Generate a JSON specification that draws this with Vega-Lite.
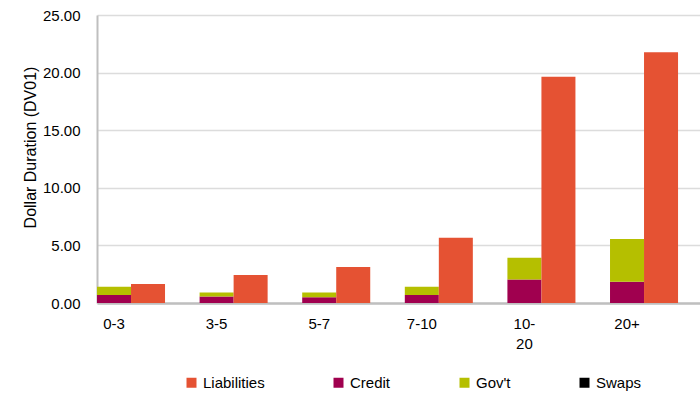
{
  "$schema": "https://vega.github.io/schema/vega-lite/v6.json",
  "width": 603,
  "height": 288,
  "autosize": {"type": "none"},
  "padding": {"left": 97, "top": 15, "right": 0, "bottom": 90},
  "background": "white",
  "config": {
    "view": {"stroke": null},
    "font": "Liberation Sans, Arial, sans-serif"
  },
  "data": {
    "values": [
      {"bucket": "0-3", "side": "Assets", "series": "Credit", "dv01": 0.69},
      {"bucket": "0-3", "side": "Assets", "series": "Gov't", "dv01": 0.72},
      {"bucket": "0-3", "side": "Assets", "series": "Swaps", "dv01": 0},
      {"bucket": "0-3", "side": "Liab", "series": "Liabilities", "dv01": 1.65},
      {"bucket": "3-5", "side": "Assets", "series": "Credit", "dv01": 0.57},
      {"bucket": "3-5", "side": "Assets", "series": "Gov't", "dv01": 0.35},
      {"bucket": "3-5", "side": "Assets", "series": "Swaps", "dv01": 0},
      {"bucket": "3-5", "side": "Liab", "series": "Liabilities", "dv01": 2.43},
      {"bucket": "5-7", "side": "Assets", "series": "Credit", "dv01": 0.49},
      {"bucket": "5-7", "side": "Assets", "series": "Gov't", "dv01": 0.43},
      {"bucket": "5-7", "side": "Assets", "series": "Swaps", "dv01": 0},
      {"bucket": "5-7", "side": "Liab", "series": "Liabilities", "dv01": 3.12},
      {"bucket": "7-10", "side": "Assets", "series": "Credit", "dv01": 0.69},
      {"bucket": "7-10", "side": "Assets", "series": "Gov't", "dv01": 0.72},
      {"bucket": "7-10", "side": "Assets", "series": "Swaps", "dv01": 0},
      {"bucket": "7-10", "side": "Liab", "series": "Liabilities", "dv01": 5.66},
      {"bucket": "10-20", "side": "Assets", "series": "Credit", "dv01": 2.05},
      {"bucket": "10-20", "side": "Assets", "series": "Gov't", "dv01": 1.88},
      {"bucket": "10-20", "side": "Assets", "series": "Swaps", "dv01": 0},
      {"bucket": "10-20", "side": "Liab", "series": "Liabilities", "dv01": 19.65},
      {"bucket": "20+", "side": "Assets", "series": "Credit", "dv01": 1.85},
      {"bucket": "20+", "side": "Assets", "series": "Gov't", "dv01": 3.70},
      {"bucket": "20+", "side": "Assets", "series": "Swaps", "dv01": 0},
      {"bucket": "20+", "side": "Liab", "series": "Liabilities", "dv01": 21.77}
    ]
  },
  "mark": {"type": "bar"},
  "encoding": {
    "x": {
      "field": "bucket",
      "type": "nominal",
      "sort": ["0-3", "3-5", "5-7", "7-10", "10-20", "20+"],
      "scale": {"paddingInner": 0.337, "paddingOuter": 0.107, "align": 0},
      "axis": {
        "title": null,
        "labelAngle": 0,
        "labelOffset": -17,
        "labelFontSize": 15,
        "labelColor": "#000000",
        "labelPadding": 13,
        "labelLineHeight": 20,
        "labelBaseline": "top",
        "labelExpr": "datum.value == '10-20' ? ['10-', '20'] : datum.value",
        "ticks": false,
        "tickSize": 0,
        "domainColor": "#bfbfbf",
        "domainWidth": 2.5,
        "grid": false
      }
    },
    "xOffset": {
      "field": "side",
      "type": "nominal",
      "sort": ["Assets", "Liab"],
      "scale": {"paddingInner": 0, "paddingOuter": 0}
    },
    "y": {
      "field": "dv01",
      "type": "quantitative",
      "stack": "zero",
      "scale": {"domain": [0, 25], "nice": false},
      "axis": {
        "title": "Dollar Duration  (DV01)",
        "titleFontSize": 16,
        "titleFontWeight": "normal",
        "titleColor": "#000000",
        "titleX": -67,
        "titleY": 132,
        "titleAlign": "center",
        "titleBaseline": "middle",
        "titleAngle": -90,
        "values": [0, 5, 10, 15, 20, 25],
        "format": ".2f",
        "labelFontSize": 15,
        "labelColor": "#000000",
        "labelPadding": 17,
        "ticks": false,
        "tickSize": 0,
        "domainColor": "#bfbfbf",
        "domainWidth": 2,
        "gridColor": "#dcdcdc",
        "gridWidth": 1.5
      }
    },
    "color": {
      "field": "series",
      "type": "nominal",
      "sort": ["Liabilities", "Credit", "Gov't", "Swaps"],
      "scale": {
        "domain": ["Liabilities", "Credit", "Gov't", "Swaps"],
        "range": ["#e55233", "#a0004f", "#b5bf00", "#000000"]
      },
      "legend": {
        "title": null,
        "orient": "none",
        "direction": "horizontal",
        "legendX": 87,
        "legendY": 360,
        "symbolType": "square",
        "symbolSize": 100,
        "symbolStrokeWidth": 0,
        "labelFontSize": 15,
        "labelColor": "#000000",
        "labelOffset": 4,
        "columnPadding": 66
      }
    },
    "order": {"field": "series", "sort": "ascending"}
  }
}
